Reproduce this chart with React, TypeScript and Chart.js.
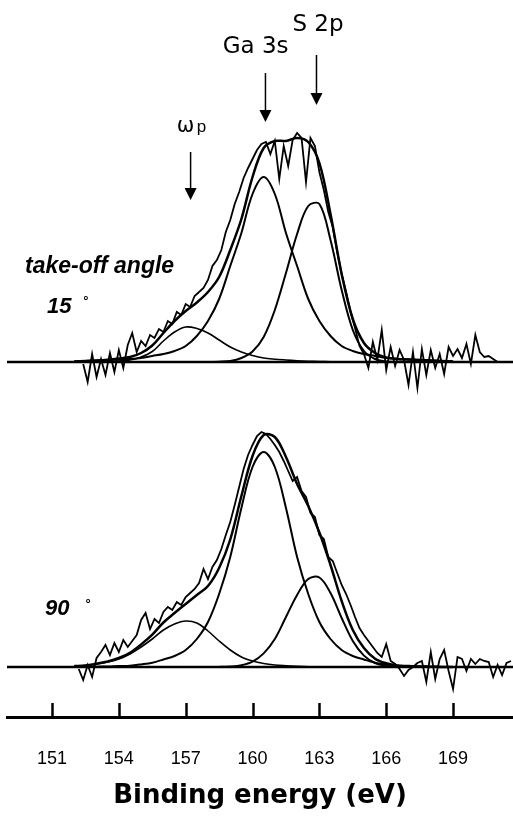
import React, { useEffect, useRef } from "react";
import { Chart, registerables } from "chart.js";

Chart.register(...registerables);

// ---------- axis ----------
const tickValues = [151, 154, 157, 160, 163, 166, 169];
const xMin = 148.98;
const xMax = 171.69;
const yMin = -50;
const yMax = 657;

// vertical offsets of the two stacked spectra (intensity units)
const offset15 = 305;
const offset90 = 0;
const baselineSpan = [148.98, 171.69];

// ---------- fitted components (energy grid, eV) ----------
const fitEnergy = [152, 152.5, 153, 153.5, 154, 154.5, 155, 155.5, 156, 156.5, 157, 157.5, 158, 158.5, 159, 159.5, 160, 160.5, 161, 161.5, 162, 162.5, 163, 163.5, 164, 164.5, 165, 165.5, 166, 166.5, 167, 167.5, 168, 168.5, 169];

// take-off angle 15
const ga3s15 = [0.5, 1, 1.5, 2, 2.5, 3, 4, 6, 8, 11, 16, 26, 41, 63, 96, 129, 168, 185, 168, 129, 96, 63, 41, 26, 16, 11, 8, 6, 4, 3, 2.5, 2, 1.5, 1, 0.5];
const s2p15 = [0, 0, 0, 0, 0, 0, 0, 0, 0, 0, 0, 0, 0, 0.3, 1, 4, 10.5, 25, 52, 89, 128, 156, 158, 122, 72, 32, 11, 3, 0.6, 0, 0, 0, 0, 0, 0];
const wp15 = [0, 0, 0, 0.3, 1, 2, 5, 10.5, 21, 30, 35, 33.5, 29, 22, 15, 10, 6.5, 4, 2.8, 2, 1.3, 0.8, 0.5, 0.2, 0, 0, 0, 0, 0, 0, 0, 0, 0, 0, 0];
const env15 = [0.5, 1, 1.5, 2.3, 3.5, 5, 9, 16.5, 29, 41, 51, 59.5, 70, 85, 112, 143, 185, 214, 221, 221, 224, 220, 199, 148, 88, 43, 19, 9, 4.6, 3, 2.5, 2, 1.5, 1, 0.5];

// take-off angle 90
const ga3s90 = [0, 0, 0.3, 0.5, 1, 1.3, 2.6, 4.3, 7.5, 11, 17, 28, 45, 73, 110, 159, 200, 215, 200, 159, 110, 73, 45, 28, 17, 11, 7.5, 4.3, 2.6, 1.3, 1, 0.5, 0.3, 0, 0];
const s2p90 = [0, 0, 0, 0, 0, 0, 0, 0, 0, 0, 0, 0, 0, 0.1, 0.5, 1.8, 5.4, 13.6, 28, 50, 72, 88, 89.5, 74, 49, 26, 11.4, 4, 1.1, 0.2, 0, 0, 0, 0, 0];
const wp90 = [1, 1.5, 3, 5, 8, 13, 20, 28, 37, 43, 46, 44, 36, 26, 17, 10, 6, 3.5, 2, 1.2, 0.6, 0.3, 0, 0, 0, 0, 0, 0, 0, 0, 0, 0, 0, 0, 0];
const env90 = [1, 1.5, 3.3, 5.5, 9, 14.3, 22.6, 32.3, 44.5, 54, 63, 72, 81, 99, 127.5, 171, 211, 232, 230, 210, 183, 161, 134.5, 102, 66, 37, 19, 8.3, 3.7, 1.5, 1, 0.5, 0.3, 0, 0];

// ---------- measured spectra ----------
const dataEnergy = [152.2, 152.4, 152.6, 152.8, 153.0, 153.2, 153.4, 153.6, 153.8, 154.0, 154.2, 154.4, 154.6, 154.8, 155.0, 155.2, 155.4, 155.6, 155.8, 156.0, 156.2, 156.4, 156.6, 156.8, 157.0, 157.2, 157.4, 157.6, 157.8, 158.0, 158.2, 158.4, 158.6, 158.8, 159.0, 159.2, 159.4, 159.6, 159.8, 160.0, 160.2, 160.4, 160.6, 160.8, 161.0, 161.2, 161.4, 161.6, 161.8, 162.0, 162.2, 162.4, 162.6, 162.8, 163.0, 163.2, 163.4, 163.6, 163.8, 164.0, 164.2, 164.4, 164.6, 164.8, 165.0, 165.2, 165.4, 165.6, 165.8, 166.0, 166.2, 166.4, 166.6, 166.8, 167.0, 167.2, 167.4, 167.6, 167.8, 168.0, 168.2, 168.4, 168.6, 168.8, 169.0, 169.2, 169.4, 169.6, 169.8, 170.0, 170.2, 170.4, 170.6, 170.8, 171.0, 171.2, 171.4, 171.6];

const raw15 = [null, -2, -20, 8, -15, 3, -13, 9, -10, 12, -6, 17, 29, 10, 21, 16, 27, 24, 33, 30, 41, 38, 50, 47, 58, 55, 66, 70, 74, 82, 96, 102, 112, 130, 142, 158, 170, 184, 194, 203, 212, 218, 220, 208, 221, 183, 216, 196, 222, 229, 224, 180, 224, 216, 190, 172, 150, 135, 110, 88, 70, 50, 34, 16, 8, -6, 20, 2, 32, -8, 15, -4, 12, 2, -23, 10, -26, 13, -13, 12, -6, 8, -12, 15, 6, 13, 4, 18, -2, 27, 10, 5, 6, 3, 0, null, null, null];

const raw90 = [-2, -13, 2, -10, 9, 15, 22, 12, 24, 15, 27, 20, 26, 32, 47, 54, 38, 48, 44, 55, 60, 57, 65, 62, 70, 74, 78, 84, 98, 88, 100, 107, 118, 132, 145, 162, 180, 198, 212, 222, 231, 235, 233, 228, 222, 215, 206, 196, 186, 190, 176, 170, 154, 150, 132, 128, 110, 106, 94, 82, 73, 62, 50, 39, 32, 26, 20, 14, 10, 23, 6, 3, -2, -9, -3, 0, 4, 6, -15, 15, -12, 8, 17, -4, -22, 10, 8, -4, 8, 3, 8, 6, 5, -10, 2, -8, 4, 6];

// ---------- annotations ----------
const arrows = [
  { e: 157.22, top: 515, tip: 467 },
  { e: 160.58, top: 594, tip: 545 },
  { e: 162.87, top: 612, tip: 562 },
];

const SANS = '"DejaVu Sans", "Liberation Sans", Arial, sans-serif';
const ARIAL = '"Liberation Sans", Arial, sans-serif';

const labels = [
  { text: "S 2p", e: 161.79, v: 636, font: `23px ${SANS}` },
  { text: "Ga 3s", e: 158.66, v: 614, font: `23px ${SANS}` },
  { text: "ω", e: 156.6, v: 535, font: `21px ${SANS}` },
  { text: "p", e: 157.5, v: 535, font: `17px ${ARIAL}` },
  { text: "take-off angle", e: 149.79, v: 394, font: `italic bold 23px ${ARIAL}` },
  { text: "15", e: 150.78, v: 354, font: `italic bold 22px ${ARIAL}` },
  { text: "°", e: 152.4, v: 362, font: `bold 13px ${ARIAL}` },
  { text: "90", e: 150.69, v: 52, font: `italic bold 22px ${ARIAL}` },
  { text: "°", e: 152.5, v: 59, font: `bold 13px ${ARIAL}` },
];

function series(xs: number[], ys: (number | null)[], off: number) {
  return xs.map((x, i) => ({ x, y: ys[i] == null ? null : (ys[i] as number) + off }));
}

const annotationPlugin = {
  id: "xpsAnnotations",
  afterDraw(chart: any) {
    const { ctx, chartArea } = chart;
    const xs = chart.scales.x;
    const ys = chart.scales.y;
    ctx.save();
    ctx.strokeStyle = "#000";
    ctx.fillStyle = "#000";
    // tick marks pointing up from the axis line
    ctx.lineWidth = 2.5;
    for (const t of tickValues) {
      const px = Math.round(xs.getPixelForValue(t)) + 0.5;
      ctx.beginPath();
      ctx.moveTo(px, chartArea.bottom);
      ctx.lineTo(px, chartArea.bottom - 14);
      ctx.stroke();
    }
    // arrows
    for (const a of arrows) {
      const px = xs.getPixelForValue(a.e);
      const yTop = ys.getPixelForValue(a.top);
      const yTip = ys.getPixelForValue(a.tip);
      ctx.lineWidth = 1.5;
      ctx.beginPath();
      ctx.moveTo(px, yTop);
      ctx.lineTo(px, yTip - 10);
      ctx.stroke();
      ctx.beginPath();
      ctx.moveTo(px - 6, yTip - 12);
      ctx.lineTo(px + 6, yTip - 12);
      ctx.lineTo(px, yTip);
      ctx.closePath();
      ctx.fill();
    }
    // labels
    ctx.textAlign = "left";
    ctx.textBaseline = "alphabetic";
    for (const l of labels) {
      ctx.font = l.font;
      ctx.fillText(l.text, xs.getPixelForValue(l.e), ys.getPixelForValue(l.v));
    }
    ctx.restore();
  },
};

export default function App() {
  const ref = useRef<HTMLCanvasElement | null>(null);

  useEffect(() => {
    if (!ref.current) return;
    const black = "#000";
    const line = (data: any[], width: number, smooth: boolean) => ({
      data,
      borderColor: black,
      borderWidth: width,
      pointRadius: 0,
      fill: false,
      spanGaps: false,
      tension: smooth ? 0.35 : 0,
    });
    const baseline = (off: number) => [
      { x: baselineSpan[0], y: off },
      { x: baselineSpan[1], y: off },
    ];

    const chart = new Chart(ref.current, {
      type: "line",
      data: {
        datasets: [
          line(baseline(offset15), 2.5, false),
          line(series(fitEnergy, wp15, offset15), 1.6, true),
          line(series(fitEnergy, ga3s15, offset15), 2, true),
          line(series(fitEnergy, s2p15, offset15), 2, true),
          line(series(fitEnergy, env15, offset15), 2.5, true),
          line(series(dataEnergy, raw15, offset15), 1.8, false),
          line(baseline(offset90), 2.5, false),
          line(series(fitEnergy, wp90, offset90), 1.6, true),
          line(series(fitEnergy, ga3s90, offset90), 2, true),
          line(series(fitEnergy, s2p90, offset90), 2, true),
          line(series(fitEnergy, env90, offset90), 2.5, true),
          line(series(dataEnergy, raw90, offset90), 1.8, false),
        ],
      },
      options: {
        animation: false,
        responsive: false,
        devicePixelRatio: 1,
        layout: { padding: { left: 7, right: 0, top: 10, bottom: 0 } },
        plugins: { legend: { display: false }, tooltip: { enabled: false } },
        scales: {
          x: {
            type: "linear",
            position: "bottom",
            min: xMin,
            max: xMax,
            afterBuildTicks(scale: any) {
              scale.ticks = tickValues.map((v) => ({ value: v }));
            },
            afterFit(scale: any) {
              scale.height = 104;
            },
            grid: { display: false, drawTicks: false },
            border: { display: true, color: black, width: 3 },
            ticks: {
              autoSkip: false,
              maxRotation: 0,
              padding: 31,
              color: black,
              font: { family: ARIAL, size: 18 },
              callback: (v: any) => String(v),
            },
            title: {
              display: true,
              text: "Binding energy (eV)",
              color: black,
              font: { family: SANS, size: 26, weight: "bold" },
              padding: { top: 0, bottom: 9 },
            },
          },
          y: {
            type: "linear",
            display: false,
            min: yMin,
            max: yMax,
          },
        },
      },
      plugins: [annotationPlugin],
    });
    return () => chart.destroy();
  }, []);

  return (
    <div style={{ position: "fixed", left: 0, top: 0, width: 513, height: 821, background: "#fff" }}>
      <canvas ref={ref} width={513} height={821} style={{ display: "block" }} />
    </div>
  );
}
